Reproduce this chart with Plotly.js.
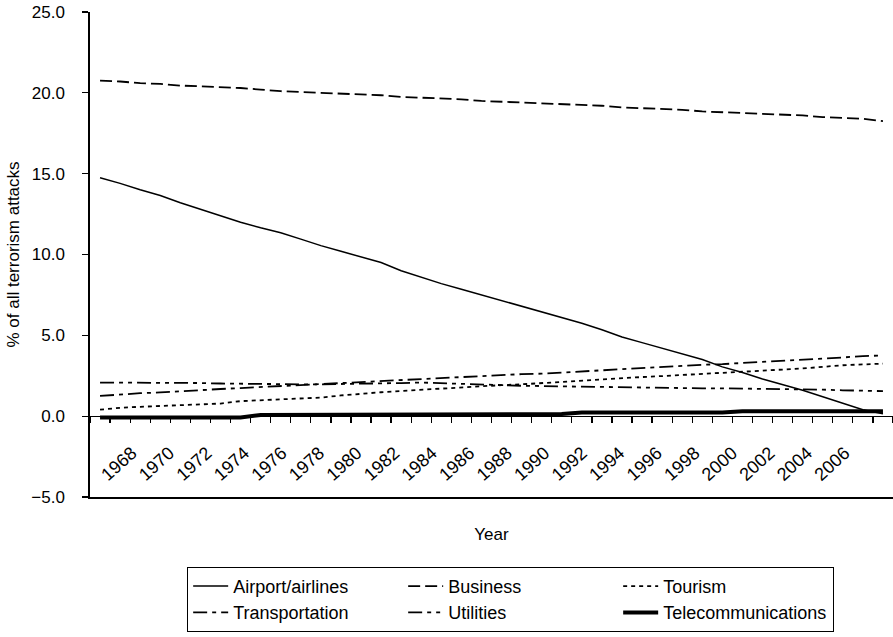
<!DOCTYPE html>
<html>
<head>
<meta charset="utf-8">
<script src="https://cdn.plot.ly/plotly-3.0.1.min.js"></script>
<style>
  html, body { margin: 0; padding: 0; background: #fff; }
  #chart { width: 893px; height: 637px; }
</style>
</head>
<body>
<div id="chart"></div>
<script>
// Share of all terrorism attacks by target type, 1968-2007
const years = [
  1968, 1969, 1970, 1971, 1972, 1973, 1974, 1975, 1976, 1977,
  1978, 1979, 1980, 1981, 1982, 1983, 1984, 1985, 1986, 1987,
  1988, 1989, 1990, 1991, 1992, 1993, 1994, 1995, 1996, 1997,
  1998, 1999, 2000, 2001, 2002, 2003, 2004, 2005, 2006, 2007
];

const airportAirlines = [
  14.75, 14.40, 14.00, 13.65, 13.20, 12.80, 12.40, 12.00, 11.65, 11.35,
  10.95, 10.55, 10.20, 9.85, 9.50, 9.00, 8.60, 8.20, 7.85, 7.50,
  7.15, 6.80, 6.45, 6.10, 5.75, 5.35, 4.90, 4.55, 4.20, 3.85,
  3.50, 3.05, 2.70, 2.30, 1.95, 1.60, 1.20, 0.80, 0.40, 0.15
];

const business = [
  20.75, 20.70, 20.60, 20.55, 20.45, 20.40, 20.35, 20.30, 20.20, 20.10,
  20.05, 20.00, 19.95, 19.90, 19.85, 19.75, 19.70, 19.65, 19.60, 19.50,
  19.45, 19.40, 19.35, 19.30, 19.25, 19.20, 19.10, 19.05, 19.00, 18.95,
  18.85, 18.80, 18.75, 18.70, 18.65, 18.60, 18.50, 18.45, 18.40, 18.25
];

const tourism = [
  0.40, 0.52, 0.58, 0.62, 0.66, 0.70, 0.78, 0.93, 0.98, 1.02,
  1.08, 1.15, 1.28, 1.40, 1.48, 1.56, 1.64, 1.70, 1.80, 1.87,
  1.92, 1.97, 2.05, 2.12, 2.20, 2.28, 2.36, 2.42, 2.48, 2.55,
  2.62, 2.66, 2.72, 2.80, 2.88, 2.95, 3.05, 3.15, 3.20, 3.25
];

const transportation = [
  1.25, 1.35, 1.42, 1.47, 1.55, 1.62, 1.68, 1.74, 1.80, 1.86,
  1.95, 2.00, 2.05, 2.10, 2.18, 2.25, 2.32, 2.37, 2.42, 2.48,
  2.55, 2.60, 2.63, 2.70, 2.78, 2.85, 2.90, 2.97, 3.05, 3.12,
  3.18, 3.22, 3.28, 3.35, 3.42, 3.50, 3.56, 3.63, 3.72, 3.75
];

const utilities = [
  2.08, 2.08, 2.07, 2.07, 2.06, 2.05, 2.02, 2.00, 1.98, 1.98,
  1.97, 1.97, 1.98, 2.00, 2.02, 2.05, 2.08, 2.05, 2.00, 1.95,
  1.92, 1.88, 1.86, 1.84, 1.80, 1.78, 1.76, 1.75, 1.74, 1.73,
  1.72, 1.72, 1.71, 1.70, 1.68, 1.66, 1.64, 1.60, 1.58, 1.55
];

const telecommunications = [
  -0.08, -0.08, -0.08, -0.08, -0.08, -0.08, -0.08, -0.08, 0.07, 0.07,
  0.07, 0.07, 0.07, 0.07, 0.07, 0.07, 0.13, 0.13, 0.13, 0.13,
  0.13, 0.13, 0.13, 0.13, 0.23, 0.23, 0.23, 0.23, 0.23, 0.23,
  0.23, 0.23, 0.31, 0.31, 0.31, 0.31, 0.31, 0.31, 0.31, 0.31
];

// Year labels shown under the zero line (every second year)
const labelYears = [
  1968, 1970, 1972, 1974, 1976, 1978, 1980, 1982, 1984, 1986,
  1988, 1990, 1992, 1994, 1996, 1998, 2000, 2002, 2004, 2006
];
const labelText = labelYears.map(String);

const FONT = 'Liberation Sans, Arial, Helvetica, sans-serif';

function series(name, values, dash, width) {
  return {
    type: 'scatter',
    mode: 'lines',
    name: name,
    x: years,
    y: values,
    xaxis: 'x',
    yaxis: 'y',
    line: { color: '#000', dash: dash, width: width },
    hoverinfo: 'x+y+name'
  };
}

// empty helper traces so the overlaid zero-line axes get their own subplots
function axisHolder(axisId) {
  return {
    type: 'scatter',
    mode: 'lines',
    x: [null],
    y: [null],
    xaxis: axisId,
    yaxis: 'y',
    showlegend: false,
    hoverinfo: 'skip',
    line: { color: 'rgba(0,0,0,0)' }
  };
}

const data = [
  series('Airport/airlines', airportAirlines, 'solid', 1.5),
  series('Business', business, '12px,5px', 1.8),
  series('Tourism', tourism, '4px,4px', 1.8),
  series('Transportation', transportation, '14px,5px,4px,5px', 1.8),
  series('Utilities', utilities, '14px,5px,4px,5px,4px,5px', 1.8),
  series('Telecommunications', telecommunications, 'solid', 4),
  axisHolder('x2'),
  axisHolder('x3')
];

const layout = {
  width: 893,
  height: 637,
  margin: { l: 90, r: 0, t: 12, b: 140 },
  paper_bgcolor: '#fff',
  plot_bgcolor: '#fff',
  font: { family: FONT, size: 17, color: '#000' },
  showlegend: true,
  legend: {
    orientation: 'h',
    x: 0.121,
    xanchor: 'left',
    y: -0.144,
    yanchor: 'top',
    bordercolor: '#000',
    borderwidth: 1,
    bgcolor: '#fff',
    font: { family: FONT, size: 18, color: '#000' },
    itemwidth: 35,
    entrywidth: 165,
    entrywidthmode: 'pixels',
    traceorder: 'normal'
  },
  // bottom frame line at -5, carries the traces and the axis title
  xaxis: {
    type: 'linear',
    range: [1967.5, 2007.5],
    anchor: 'y',
    showline: true,
    linecolor: '#000',
    linewidth: 2,
    ticks: '',
    showticklabels: false,
    showgrid: false,
    zeroline: false,
    fixedrange: true,
    title: { text: 'Year', font: { family: FONT, size: 17, color: '#000' }, standoff: 30 }
  },
  // axis drawn along the zero line, tick marks between years
  xaxis2: {
    type: 'linear',
    overlaying: 'x',
    range: [1967.5, 2007.5],
    anchor: 'free',
    position: 5 / 30,
    showline: true,
    linecolor: '#000',
    linewidth: 1.3,
    ticks: 'outside',
    ticklen: 6,
    tickwidth: 1.3,
    tickcolor: '#000',
    tickmode: 'linear',
    tick0: 1968.5,
    dtick: 1,
    showticklabels: false,
    showgrid: false,
    zeroline: false,
    fixedrange: true
  },
  // rotated year labels
  xaxis3: {
    type: 'linear',
    overlaying: 'x',
    anchor: 'free',
    position: 5 / 30,
    range: [1965.77, 2008.56],
    showline: false,
    ticks: '',
    tickmode: 'array',
    tickvals: labelYears,
    ticktext: labelText,
    tickangle: -42,
    ticklabelstandoff: 22,
    tickfont: { family: FONT, size: 18, color: '#000' },
    showgrid: false,
    zeroline: false,
    fixedrange: true
  },
  yaxis: {
    range: [-5, 25],
    tickmode: 'linear',
    tick0: -5,
    dtick: 5,
    tickformat: '.1f',
    showline: true,
    linecolor: '#000',
    linewidth: 1.7,
    ticks: 'outside',
    ticklen: 6,
    tickwidth: 1.3,
    tickcolor: '#000',
    ticklabelstandoff: 14,
    showgrid: false,
    zeroline: false,
    fixedrange: true,
    automargin: false,
    tickfont: { family: FONT, size: 17, color: '#000' },
    title: { text: '% of all terrorism attacks', font: { family: FONT, size: 17, color: '#000' }, standoff: 7 }
  }
};

Plotly.newPlot('chart', data, layout, { displayModeBar: false, staticPlot: true });
</script>
</body>
</html>
